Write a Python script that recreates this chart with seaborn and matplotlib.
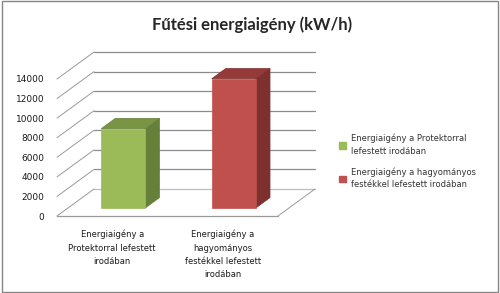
import matplotlib
matplotlib.use("Agg")
import matplotlib.pyplot as plt
from matplotlib.patches import Polygon, Rectangle
import seaborn as sns
import pandas as pd

# ---- data ----
categories = ["Protektorral", "Hagyományos"]
values = [8100, 13200]
tick_labels = ["Energiaigény a\nProtektorral lefestett\nirodában",
               "Energiaigény a\nhagyományos\nfestékkel lefestett\nirodában"]
legend_labels = ["Energiaigény a Protektorral\nlefestett irodában",
                 "Energiaigény a hagyományos\nfestékkel lefestett irodában"]
y_ticks = [0, 2000, 4000, 6000, 8000, 10000, 12000, 14000]
title = "Fűtési energiaigény (kW/h)"

front_cols = ["#9BBB59", "#C0504D"]
side_cols = ["#66803A", "#7E302E"]
top_cols = ["#7A9446", "#953A38"]

sns.set_theme(style="white")
plt.rcParams['font.family'] = ['DejaVu Sans']

fig = plt.figure(figsize=(5.0, 2.93), dpi=100)
ax = fig.add_axes([57/500, 77/293, 221/500, 137/293])

df = pd.DataFrame({"cat": categories, "val": values})
sns.barplot(data=df, x="cat", y="val", hue="cat", palette=front_cols,
            width=0.4, ax=ax, legend=False, saturation=1)

ax.set_xlim(-0.5, 1.5)
ax.set_ylim(0, 14000)

# oblique depth vector in data units
DX = 37 / 110.5
DY = 27 * 14000 / 137


def P(x, y, z):
    return (x + z * DX, y + z * DY)


z0, z1 = 0.3, 0.68
grid_col = "#8C8C8C"
# back wall gridlines and left wall diagonals
for v in y_ticks:
    xs, ys = zip(P(-0.5, v, 1), P(1.5, v, 1))
    ax.plot(xs, ys, color="#BDBDBD" if v == 0 else grid_col, lw=0.9,
            clip_on=False, zorder=0.5)
    xs, ys = zip(P(-0.5, v, 0), P(-0.5, v, 1))
    ax.plot(xs, ys, color="#9A9A9A", lw=0.7, clip_on=False, zorder=0.5)
# floor edges
xs, ys = zip(P(-0.5, 0, 0), P(1.5, 0, 0))
ax.plot(xs, ys, color="#9A9A9A", lw=0.9, clip_on=False, zorder=0.5)
xs, ys = zip(P(1.5, 0, 0), P(1.5, 0, 1))
ax.plot(xs, ys, color="#9A9A9A", lw=0.7, clip_on=False, zorder=0.5)

# 3D bars from the seaborn patches
for i, p in enumerate(list(ax.patches)):
    x, w, h = p.get_x(), p.get_width(), p.get_height()
    side = Polygon([P(x + w, 0, z0), P(x + w, h, z0), P(x + w, h, z1), P(x + w, 0, z1)],
                   closed=True, facecolor=side_cols[i], edgecolor=side_cols[i],
                   lw=0.5, clip_on=False, zorder=2)
    top = Polygon([P(x, h, z0), P(x + w, h, z0), P(x + w, h, z1), P(x, h, z1)],
                  closed=True, facecolor=top_cols[i], edgecolor=side_cols[i],
                  lw=0.5, clip_on=False, zorder=2)
    ax.add_patch(side)
    ax.add_patch(top)
    fx, fy = P(x, 0, z0)
    p.set_x(fx)
    p.set_y(fy)
    p.set_edgecolor(front_cols[i])
    p.set_linewidth(0.5)
    p.set_clip_on(False)
    p.set_zorder(3)

for s in ax.spines.values():
    s.set_visible(False)
ax.set_yticks(y_ticks)
ax.set_yticklabels([str(v) for v in y_ticks], fontsize=6.5, color="#1a1a1a")
ax.set_xticks(range(len(categories)))
ax.set_xticklabels(tick_labels, fontsize=6, linespacing=1.6, color="#1a1a1a")
ax.tick_params(axis="y", length=0, pad=9)
ax.tick_params(axis="x", length=0, pad=10)
ax.set_xlabel("")
ax.set_ylabel("")
ax.patch.set_alpha(0)

fig.text(252/500, 1 - 25/293, title, ha="center", va="center",
         fontsize=12, fontweight="bold", family=["Lato", "DejaVu Sans"])

handles = [Rectangle((0, 0), 1, 1, facecolor=c, edgecolor=c) for c in front_cols]
leg = fig.legend(handles, legend_labels, loc="upper left",
                 bbox_to_anchor=(339/500, 1 - 134/293), frameon=False,
                 fontsize=6, handlelength=0.8, handleheight=0.8,
                 handletextpad=0.6, labelspacing=1.4, borderpad=0, borderaxespad=0)
for t in leg.get_texts():
    t.set_linespacing(1.45)
    t.set_color("#333333")

fig.add_artist(Rectangle((0.003, 0.004), 0.992, 0.991, transform=fig.transFigure,
                         fill=False, edgecolor="#868686", lw=1))

fig.savefig("out.png", dpi=100)
